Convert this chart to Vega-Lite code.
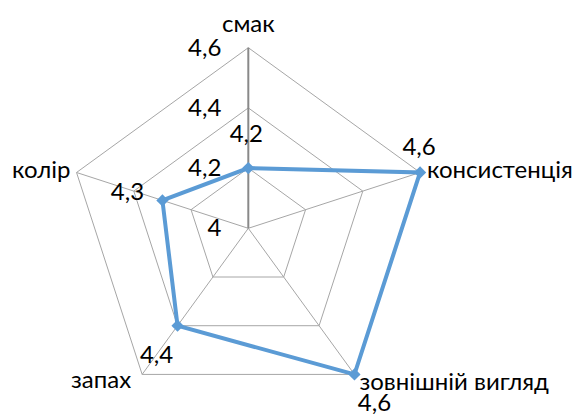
{
  "$schema": "https://vega.github.io/schema/vega-lite/v6.json",
  "width": 576,
  "height": 414,
  "autosize": "none",
  "padding": 0,
  "background": "white",
  "config": {
    "view": {"stroke": null},
    "locale": {"number": {"decimal": ",", "thousands": " ", "grouping": [3], "currency": ["", ""]}},
    "text": {"font": "Lato", "fontSize": 24, "color": "#000000"}
  },
  "datasets": {
    "scores": [
      {"category": "смак", "order": 0, "value": 4.2},
      {"category": "консистенція", "order": 1, "value": 4.6},
      {"category": "зовнішній вигляд", "order": 2, "value": 4.6},
      {"category": "запах", "order": 3, "value": 4.4},
      {"category": "колір", "order": 4, "value": 4.3}
    ],
    "rings": [
      {"level": 4.2, "order": 0}, {"level": 4.2, "order": 1}, {"level": 4.2, "order": 2}, {"level": 4.2, "order": 3}, {"level": 4.2, "order": 4},
      {"level": 4.4, "order": 0}, {"level": 4.4, "order": 1}, {"level": 4.4, "order": 2}, {"level": 4.4, "order": 3}, {"level": 4.4, "order": 4},
      {"level": 4.6, "order": 0}, {"level": 4.6, "order": 1}, {"level": 4.6, "order": 2}, {"level": 4.6, "order": 3}, {"level": 4.6, "order": 4}
    ],
    "ticks": [{"level": 4}, {"level": 4.2}, {"level": 4.4}, {"level": 4.6}]
  },
  "encoding": {
    "x": {"field": "px", "type": "quantitative", "scale": {"domain": [-1.3749, 1.8145], "nice": false, "zero": false}, "axis": null},
    "y": {"field": "py", "type": "quantitative", "scale": {"domain": [-1.0282, 1.2641], "nice": false, "zero": false}, "axis": null}
  },
  "layer": [
    {
      "data": {"name": "rings"},
      "transform": [
        {"calculate": "(datum.level-4)/0.6", "as": "r"},
        {"calculate": "datum.r*sin(2*PI*datum.order/5)", "as": "px"},
        {"calculate": "datum.r*cos(2*PI*datum.order/5)", "as": "py"}
      ],
      "layer": [
        {
          "mark": {"type": "line", "interpolate": "linear-closed", "stroke": "#A6A6A6", "strokeWidth": 1},
          "encoding": {"detail": {"field": "level"}, "order": {"field": "order"}}
        },
        {
          "transform": [{"filter": "datum.level == 4.6 && datum.order > 0"}],
          "mark": {"type": "rule", "stroke": "#A6A6A6", "strokeWidth": 1},
          "encoding": {"x2": {"datum": 0}, "y2": {"datum": 0}}
        },
        {
          "transform": [{"filter": "datum.level == 4.6 && datum.order == 0"}],
          "mark": {"type": "rule", "stroke": "#898989", "strokeWidth": 2},
          "encoding": {"x2": {"datum": 0}, "y2": {"datum": 0}}
        }
      ]
    },
    {
      "data": {"name": "ticks"},
      "transform": [
        {"calculate": "(datum.level-4)/0.6", "as": "py"},
        {"calculate": "0", "as": "px"}
      ],
      "mark": {"type": "text", "align": "right", "baseline": "middle", "dx": -27, "dy": 1},
      "encoding": {"text": {"field": "level", "type": "quantitative", "format": ".1~f"}}
    },
    {
      "data": {"name": "scores"},
      "transform": [
        {"calculate": "(datum.value-4)/0.6", "as": "r"},
        {"calculate": "datum.r*sin(2*PI*datum.order/5)", "as": "px"},
        {"calculate": "datum.r*cos(2*PI*datum.order/5)", "as": "py"},
        {"calculate": "sin(2*PI*datum.order/5)", "as": "vx"},
        {"calculate": "cos(2*PI*datum.order/5)", "as": "vy"}
      ],
      "layer": [
        {
          "mark": {"type": "line", "interpolate": "linear-closed", "stroke": "#5B9BD5", "strokeWidth": 4},
          "encoding": {"order": {"field": "order"}}
        },
        {
          "mark": {"type": "point", "shape": "diamond", "filled": true, "color": "#5B9BD5", "size": 150, "opacity": 1},
          "encoding": {}
        },
        {
          "transform": [{"filter": "datum.order == 0"}],
          "layer": [
            {"mark": {"type": "text", "align": "center", "baseline": "alphabetic", "dx": 0, "dy": -16},
             "encoding": {"x": {"field": "vx", "type": "quantitative"}, "y": {"field": "vy", "type": "quantitative"}, "text": {"field": "category"}}},
            {"mark": {"type": "text", "align": "center", "baseline": "alphabetic", "dx": -2, "dy": -26},
             "encoding": {"text": {"field": "value", "type": "quantitative", "format": ".1~f"}}}
          ]
        },
        {
          "transform": [{"filter": "datum.order == 1"}],
          "layer": [
            {"mark": {"type": "text", "align": "left", "baseline": "alphabetic", "dx": 7, "dy": 6},
             "encoding": {"x": {"field": "vx", "type": "quantitative"}, "y": {"field": "vy", "type": "quantitative"}, "text": {"field": "category"}}},
            {"mark": {"type": "text", "align": "center", "baseline": "alphabetic", "dx": -1, "dy": -17},
             "encoding": {"text": {"field": "value", "type": "quantitative", "format": ".1~f"}}}
          ]
        },
        {
          "transform": [{"filter": "datum.order == 2"}],
          "layer": [
            {"mark": {"type": "text", "align": "left", "baseline": "alphabetic", "dx": 5, "dy": 16},
             "encoding": {"x": {"field": "vx", "type": "quantitative"}, "y": {"field": "vy", "type": "quantitative"}, "text": {"field": "category"}}},
            {"mark": {"type": "text", "align": "center", "baseline": "alphabetic", "dx": 20, "dy": 37},
             "encoding": {"text": {"field": "value", "type": "quantitative", "format": ".1~f"}}}
          ]
        },
        {
          "transform": [{"filter": "datum.order == 3"}],
          "layer": [
            {"mark": {"type": "text", "align": "right", "baseline": "alphabetic", "dx": -11, "dy": 14},
             "encoding": {"x": {"field": "vx", "type": "quantitative"}, "y": {"field": "vy", "type": "quantitative"}, "text": {"field": "category"}}},
            {"mark": {"type": "text", "align": "center", "baseline": "alphabetic", "dx": -21, "dy": 37},
             "encoding": {"text": {"field": "value", "type": "quantitative", "format": ".1~f"}}}
          ]
        },
        {
          "transform": [{"filter": "datum.order == 4"}],
          "layer": [
            {"mark": {"type": "text", "align": "right", "baseline": "alphabetic", "dx": -6, "dy": 6},
             "encoding": {"x": {"field": "vx", "type": "quantitative"}, "y": {"field": "vy", "type": "quantitative"}, "text": {"field": "category"}}},
            {"mark": {"type": "text", "align": "center", "baseline": "alphabetic", "dx": -35, "dy": 0},
             "encoding": {"text": {"field": "value", "type": "quantitative", "format": ".1~f"}}}
          ]
        }
      ]
    }
  ]
}
